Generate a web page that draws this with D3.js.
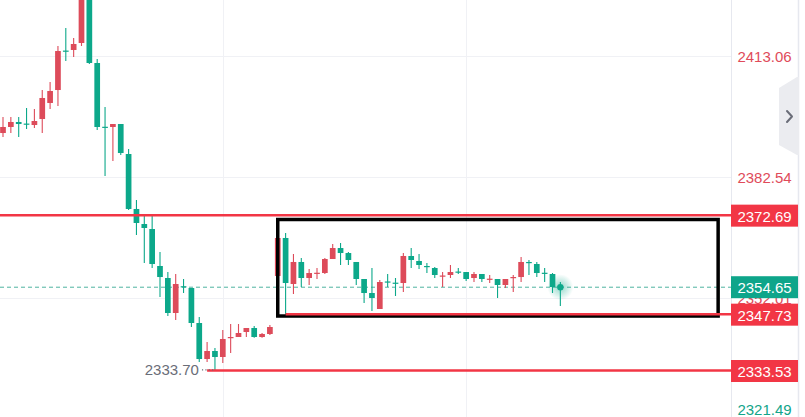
<!DOCTYPE html>
<html>
<head>
<meta charset="utf-8">
<script src="https://cdn.jsdelivr.net/npm/d3@7"></script>
<style>
  html, body { margin: 0; padding: 0; background: #ffffff; }
  svg { display: block; }
  text { font-family: "Liberation Sans", Arial, sans-serif; }
</style>
</head>
<body>
<svg id="chart" width="805" height="417"></svg>
<script>
// OHLC series, one entry per bar
const open  = [2393.52,2395.04,2396.30,2395.90,2395.54,2397.05,2401.09,2404.36,2414.30,2414.45,
               2416.21,2429.00,2411.17,2395.10,2395.04,2395.79,2388.23,2374.37,2370.58,2369.32,
               2360.00,2356.97,2348.15,2354.90,2354.45,2345.63,2336.55,2338.57,2337.06,2341.90,
               2342.10,2343.36,2344.37,2342.10,2342.86,2357.48,2367.06,2355.46,2361.01,2356.97,
               2358.10,2358.23,2361.76,2364.53,2363.27,2361.01,2356.72,2353.19,2349.16,2356.10,
               2355.80,2355.71,2362.52,2361.26,2360.00,2359.49,2357.40,2357.73,2358.60,2358.48,
               2356.97,2357.98,2356.60,2356.72,2355.21,2356.97,2357.22,2361.01,2360.50,2358.30,
               2357.98,2354.96];
const high  = [2397.56,2397.56,2397.56,2399.83,2399.57,2404.36,2406.38,2415.45,2419.99,2417.47,
               2431.00,2431.00,2412.18,2400.08,2395.79,2395.79,2389.49,2376.63,2372.85,2373.10,
               2363.53,2358.48,2357.98,2356.72,2354.45,2347.14,2340.84,2339.30,2343.86,2345.38,
               2345.38,2344.37,2344.90,2343.10,2345.10,2369.50,2368.32,2363.02,2362.01,2359.24,
               2359.49,2362.00,2365.54,2365.79,2363.53,2361.01,2356.72,2359.49,2356.50,2357.98,
               2356.97,2363.27,2364.53,2363.02,2360.75,2359.74,2358.48,2360.25,2359.49,2358.48,
               2358.48,2357.98,2357.73,2356.72,2356.72,2357.73,2362.27,2361.51,2361.01,2359.49,
               2358.23,2355.96];
const low   = [2392.52,2393.52,2392.52,2394.53,2394.78,2393.52,2399.57,2400.33,2411.67,2412.68,
               2415.45,2410.92,2394.28,2382.68,2386.47,2387.98,2374.11,2367.81,2360.75,2359.49,
               2352.18,2347.39,2346.38,2353.19,2344.62,2335.80,2335.80,2333.70,2335.54,2338.07,
               2342.10,2342.10,2341.90,2341.90,2342.60,2357.00,2347.64,2352.94,2354.70,2355.21,
               2356.72,2358.00,2361.76,2360.25,2360.25,2355.21,2350.67,2348.65,2349.16,2354.70,
               2352.43,2353.44,2359.49,2359.24,2358.23,2356.97,2354.70,2356.97,2358.00,2356.20,
               2355.96,2355.96,2355.71,2351.93,2354.45,2353.44,2355.96,2357.73,2357.22,2355.96,
               2353.19,2349.91];
const close = [2395.04,2396.30,2395.79,2395.70,2396.55,2402.35,2404.11,2414.19,2414.10,2415.96,
               2429.00,2411.17,2395.04,2394.95,2395.79,2388.48,2374.37,2370.84,2369.58,2360.50,
               2357.22,2348.15,2355.46,2354.60,2345.63,2336.55,2338.57,2337.06,2341.60,2342.10,
               2343.11,2344.37,2342.10,2342.86,2344.62,2367.06,2355.71,2361.01,2356.97,2358.23,
               2358.30,2361.76,2364.53,2363.27,2361.51,2356.72,2353.19,2351.93,2355.96,2355.90,
               2355.60,2362.52,2361.51,2360.25,2359.74,2357.73,2357.60,2358.48,2358.40,2356.72,
               2357.98,2356.72,2356.80,2355.21,2356.72,2357.22,2361.01,2360.75,2358.23,2358.10,
               2354.70,2354.65];

// Price scale ticks
const priceTicks = [2413.06, 2382.54, 2352.01, 2321.49];
// Bars that carry a vertical time grid line
const timeGridBars = [28, 59];

// Horizontal levels: price and the bar where each one begins
const levelPrices = [2372.69, 2347.73, 2333.53];
const levelStarts = [0, 36, 26];

// Range box: bar span and price span
const boxBars   = [35, 91.1];
const boxPrices = [2371.72, 2347.39];

// Session low marker
const lowLabel = "2333.70";
const lowBar = 27;
const lowPrice = 2333.70;

const lastPrice = 2354.65;

const W = 805, H = 417;
const plotRight = 731;
const UP = "#dd4b5a", DOWN = "#0ca88a";
const LINE_RED = "#f23645";

const svg = d3.select("#chart");

const x = d3.scaleLinear().domain([0, 71]).range([3, 560.35]);
const y = d3.scaleLinear().domain([2333.53, 2413.06]).range([371, 55.5]);
const bodyW = 5.7;

const plot = svg.append("g");
plot.append("clipPath").attr("id", "plotClip")
  .append("rect").attr("x", 0).attr("y", 0).attr("width", plotRight).attr("height", H);
const g = plot.append("g").attr("clip-path", "url(#plotClip)");

// grid
g.selectAll("line.hgrid").data(priceTicks).join("line")
  .attr("x1", 0).attr("x2", plotRight)
  .attr("y1", d => Math.round(y(d)) + 0.5).attr("y2", d => Math.round(y(d)) + 0.5)
  .attr("stroke", "#f0f1f5").attr("stroke-width", 1);
g.selectAll("line.vgrid").data(timeGridBars).join("line")
  .attr("x1", d => Math.round(x(d)) + 0.5).attr("x2", d => Math.round(x(d)) + 0.5)
  .attr("y1", 0).attr("y2", H)
  .attr("stroke", "#f0f1f5").attr("stroke-width", 1);

// last price dashed line
g.append("line")
  .attr("x1", 0).attr("x2", plotRight)
  .attr("y1", y(lastPrice)).attr("y2", y(lastPrice))
  .attr("stroke", "#4fb3a0").attr("stroke-width", 1)
  .attr("stroke-dasharray", "4,3");

// candles
const bars = d3.range(open.length).map(i => ({
  i, o: open[i], h: high[i], l: low[i], c: close[i], up: close[i] >= open[i]
}));
const cg = g.append("g");
cg.selectAll("line.wick").data(bars).join("line")
  .attr("x1", d => x(d.i)).attr("x2", d => x(d.i))
  .attr("y1", d => y(d.h)).attr("y2", d => y(d.l))
  .attr("stroke", d => d.up ? UP : DOWN).attr("stroke-width", 1.1);
cg.selectAll("rect.body").data(bars).join("rect")
  .attr("x", d => x(d.i) - bodyW / 2)
  .attr("width", bodyW)
  .attr("y", d => y(Math.max(d.o, d.c)))
  .attr("height", d => Math.max(1.2, Math.abs(y(d.o) - y(d.c))))
  .attr("fill", d => d.up ? UP : DOWN);

// pulse on the last bar
const defs = svg.append("defs");
const grad = defs.append("radialGradient").attr("id", "pulse");
grad.append("stop").attr("offset", "0%").attr("stop-color", DOWN).attr("stop-opacity", 0.45);
grad.append("stop").attr("offset", "60%").attr("stop-color", DOWN).attr("stop-opacity", 0.18);
grad.append("stop").attr("offset", "100%").attr("stop-color", DOWN).attr("stop-opacity", 0);
const last = bars[bars.length - 1];
g.append("circle").attr("cx", x(last.i)).attr("cy", y(last.c)).attr("r", 13).attr("fill", "url(#pulse)");
g.append("circle").attr("cx", x(last.i)).attr("cy", y(last.c)).attr("r", 3.2).attr("fill", DOWN);

// range box
g.append("rect")
  .attr("x", x(boxBars[0])).attr("y", y(boxPrices[0]))
  .attr("width", x(boxBars[1]) - x(boxBars[0]))
  .attr("height", y(boxPrices[1]) - y(boxPrices[0]))
  .attr("fill", "none").attr("stroke", "#000").attr("stroke-width", 3.5);

// horizontal levels (drawn over the box edges)
g.selectAll("line.level").data(levelPrices).join("line")
  .attr("x1", (d, k) => levelStarts[k] === 0 ? 0 : x(levelStarts[k]))
  .attr("x2", plotRight)
  .attr("y1", d => y(d) - 0.5).attr("y2", d => y(d) - 0.5)
  .attr("stroke", LINE_RED).attr("stroke-width", 2.5);

// session low marker
g.append("line")
  .attr("x1", x(lowBar) - 13).attr("x2", x(lowBar) - 1)
  .attr("y1", y(lowPrice) - 0.5).attr("y2", y(lowPrice) - 0.5)
  .attr("stroke", "#6a6d78").attr("stroke-width", 1.2).attr("stroke-dasharray", "1.2,2.2");
g.append("text")
  .attr("x", x(lowBar) - 16).attr("y", y(lowPrice) + 5)
  .attr("text-anchor", "end").attr("font-size", 15).attr("fill", "#6a6d78")
  .text(lowLabel);

// price axis panel
const axis = svg.append("g");
axis.append("line").attr("x1", 731.5).attr("x2", 731.5).attr("y1", 0).attr("y2", H)
  .attr("stroke", "#e6e8ef").attr("stroke-width", 1);
axis.append("line").attr("x1", 798.5).attr("x2", 798.5).attr("y1", 0).attr("y2", H)
  .attr("stroke", "#e6e8ef").attr("stroke-width", 1.5);

const labelX = 764.5;
axis.selectAll("text.tick").data(priceTicks).join("text")
  .attr("x", labelX)
  .attr("y", d => Math.min(y(d), 408) + 1.5)
  .attr("dy", "0.35em")
  .attr("text-anchor", "middle").attr("font-size", 15)
  .attr("fill", d => d < 2340 ? "#12a58a" : "#e04b5a")
  .text(d => d.toFixed(2));

// value tags on the price axis
const tags = levelPrices.map(p => ({ p, fill: LINE_RED }))
  .concat([{ p: lastPrice, fill: "#0ea58a" }]);
const tg = axis.selectAll("g.tag").data(tags).join("g")
  .attr("transform", d => `translate(731,${y(d.p)})`);
tg.append("rect").attr("x", 0).attr("y", -11).attr("width", 67).attr("height", 22)
  .attr("fill", d => d.fill);
tg.append("text").attr("x", labelX - 731).attr("y", 1).attr("dy", "0.35em")
  .attr("text-anchor", "middle").attr("font-size", 15).attr("fill", "#fff")
  .text(d => d.p.toFixed(2));

// collapse handle
axis.append("path")
  .attr("d", "M779,88 L797,77 L799,77 L799,155 L797,155 L779,145 Z")
  .attr("fill", "#ebecf0");
axis.append("path")
  .attr("d", "M787,111 L792,116.5 L787,122")
  .attr("fill", "none").attr("stroke", "#6a6d78").attr("stroke-width", 2)
  .attr("stroke-linecap", "round").attr("stroke-linejoin", "round");
</script>
</body>
</html>
